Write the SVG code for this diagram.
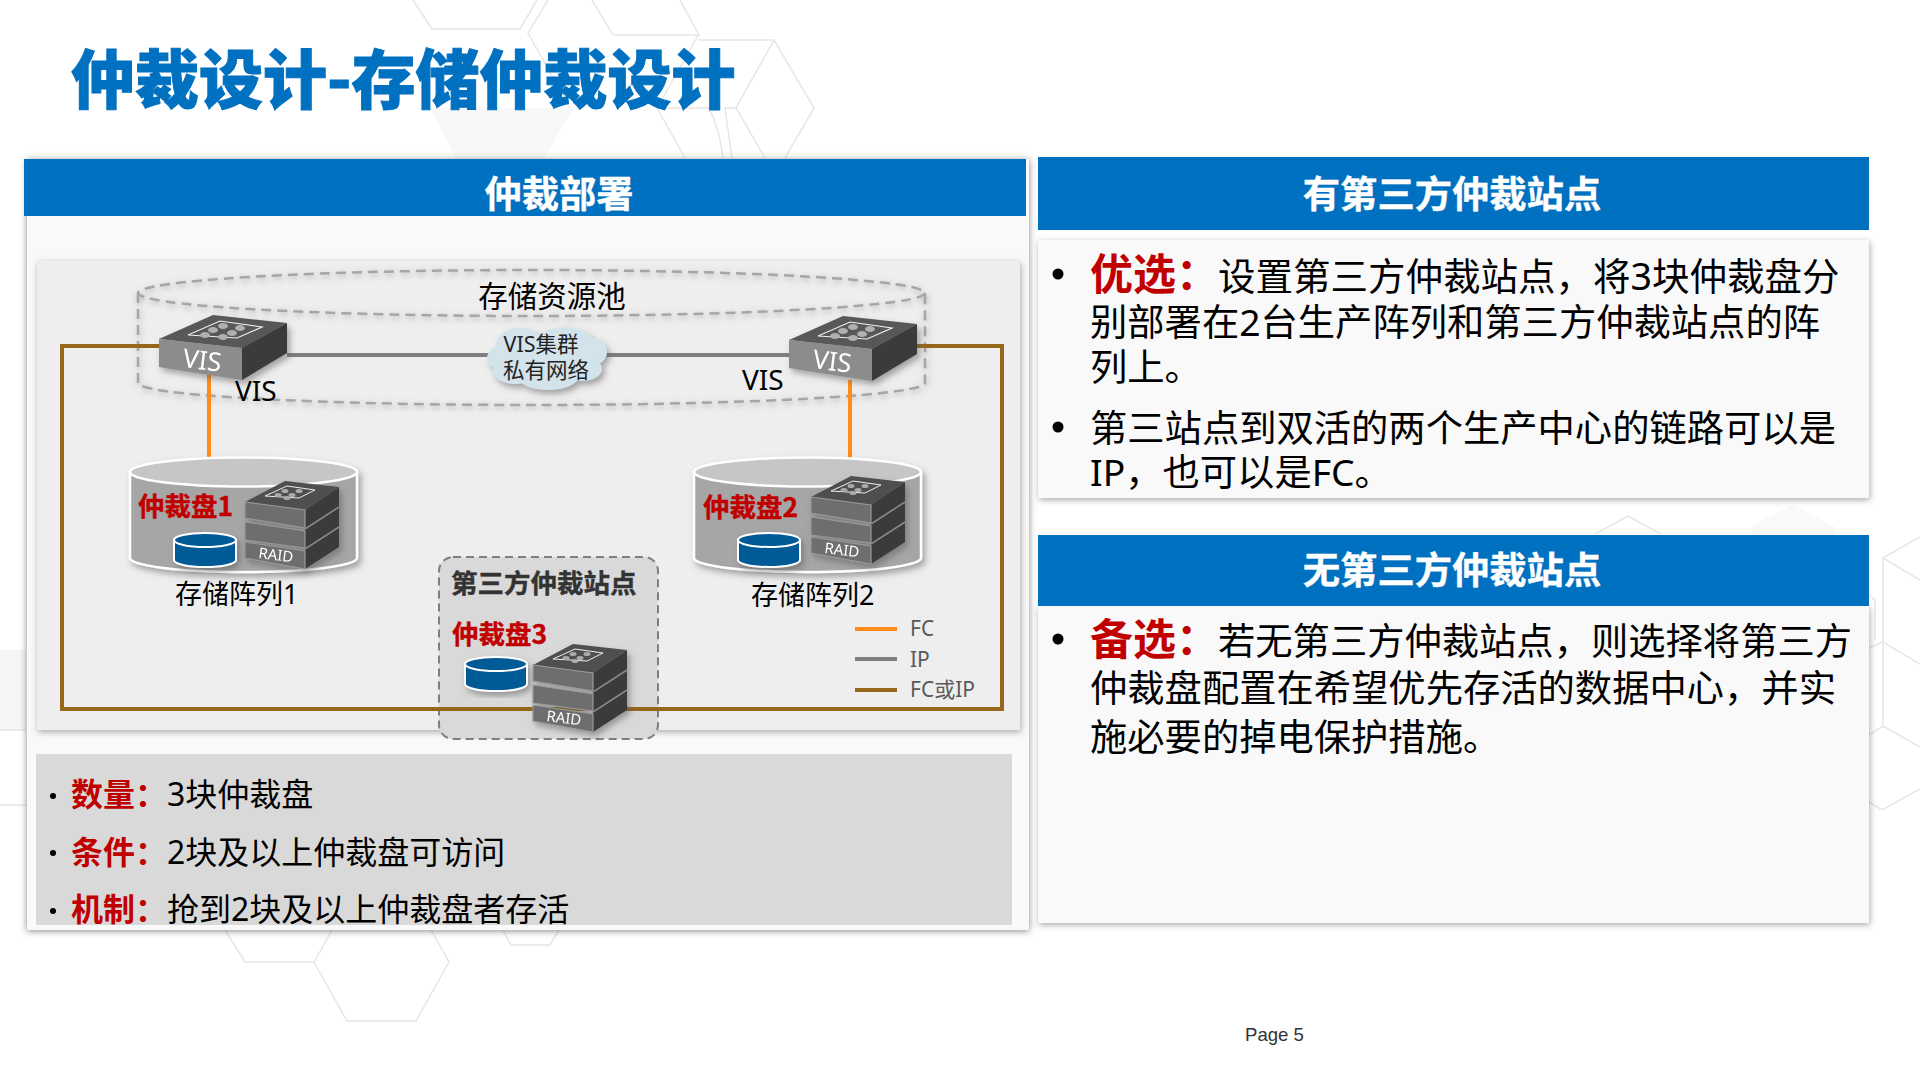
<svg xmlns="http://www.w3.org/2000/svg" xmlns:xlink="http://www.w3.org/1999/xlink" width="1920" height="1080" viewBox="0 0 1920 1080">
<style>
text{font-family:"Noto Sans","Noto Sans CJK SC",sans-serif;fill:#000}
.bg{fill:none;stroke:#e6e6e6;stroke-width:1.5}
.hd{fill:#0070c0}
.hdt{font-size:37.3px;font-weight:700;fill:#fff;text-anchor:middle;font-family:"Noto Sans CJK SC",sans-serif;stroke:#fff;stroke-width:.4}
.body{font-size:37.3px}
.red{fill:#c00000;font-weight:700;font-family:"Noto Sans CJK SC",sans-serif}
.disk{font-size:26.5px;font-weight:700;fill:#c00000;stroke:#c00000;stroke-width:.4;font-family:"Noto Sans CJK SC",sans-serif}
.small{font-size:32px}
.lab{font-size:27px}
.leg{font-size:21px;fill:#595959}
.fc{stroke:#ff8c1a;stroke-width:4;fill:none}
.ip{stroke:#7f7f7f;stroke-width:4;fill:none}
.fi{stroke:#96661a;stroke-width:4;fill:none}
</style>
<defs>
<filter id="sh" x="-5%" y="-5%" width="110%" height="110%"><feDropShadow dx="1" dy="2" stdDeviation="3" flood-color="#666" flood-opacity=".55"/></filter>
<filter id="sh3" x="-5%" y="-5%" width="110%" height="110%"><feDropShadow dx="0" dy="1" stdDeviation="3.5" flood-color="#555" flood-opacity=".7"/></filter>
<filter id="sh2" x="-10%" y="-10%" width="125%" height="130%"><feDropShadow dx="3" dy="4" stdDeviation="3" flood-color="#555" flood-opacity=".5"/></filter>
<clipPath id="cl"><rect x="36" y="754" width="976" height="171"/></clipPath>
<g id="sw">
<polygon points="0,24 54,0 128,8 83,33" fill="#585858"/>
<polygon points="0,24 83,33 83,65 0,52" fill="#8c8c8c"/>
<polygon points="83,33 128,8 128,38 83,65" fill="#3a3a3a"/>
<polygon points="29,20 61,6 103,12 78,23" fill="none" stroke="#eee" stroke-width="1.2"/>
<g fill="#b0b0b0"><ellipse cx="46" cy="20" rx="5" ry="3"/><ellipse cx="54" cy="15" rx="5" ry="3"/><ellipse cx="64" cy="11" rx="5" ry="3"/><ellipse cx="73" cy="18" rx="5" ry="3"/><ellipse cx="81" cy="13" rx="5" ry="3"/><ellipse cx="64" cy="22" rx="5" ry="3"/></g>
<text transform="translate(23,52) rotate(7)" style="font-size:26px;fill:#fff">VIS</text>
</g>
<g id="st">
<polygon points="60,29 94,6 94,66 60,88" fill="#3a3a3a"/>
<polygon points="0,21 40,0 94,6 60,29" fill="#4f4f4f"/>
<g fill="#6e6e6e" stroke="#999" stroke-width="1.2">
<polygon points="0,21 60,29 60,47 0,37"/>
<polygon points="0,41 60,50 60,67 0,59"/>
<polygon points="0,61 60,70 60,88 0,77"/>
</g>
<path d="M60 48L94 26M60 68L94 46" stroke="#888" stroke-width="1.5"/>
<polygon points="20,15 42,5 70,9 54,17" fill="none" stroke="#eee" stroke-width="1"/>
<g fill="#aaa"><ellipse cx="33" cy="14" rx="3.5" ry="2"/><ellipse cx="40" cy="10" rx="3.5" ry="2"/><ellipse cx="47" cy="14" rx="3.5" ry="2"/><ellipse cx="54" cy="10" rx="3.5" ry="2"/><ellipse cx="42" cy="17" rx="3.5" ry="2"/></g>
<text transform="translate(13,77) rotate(7)" style="font-size:15px;fill:#fff">RAID</text>
</g>
<g id="dk">
<path d="M0 7V27A31 7 0 0 0 62 27V7Z" fill="#005a96" stroke="#fff" stroke-width="2"/>
<ellipse cx="31" cy="7" rx="31" ry="7" fill="#005a96" stroke="#fff" stroke-width="2"/>
</g>
<g id="cy">
<path d="M0 14V100A113.5 14 0 0 0 227 100V14Z" fill="#a6a6a6" stroke="#fff" stroke-width="2.5"/>
<ellipse cx="113.5" cy="14" rx="113.5" ry="14.5" fill="#c6c6c6" stroke="#fff" stroke-width="2.5"/>
</g>
</defs>
<rect width="1920" height="1080" fill="#fff"/>
<g id="background">
<polygon points="430,108 456,158 544,158 574,108" fill="#f8f8f8"/>
<rect x="0" y="650" width="26" height="80" fill="#f6f6f6"/>
<polygon points="1752,535 1752,525 1793,505 1835,527 1835,535" fill="#f9f9f9"/>
<path class="bg" d="M413 0L432 29H520L537 0M548 0L528 33L570 108M592 0L613 35H699L680 0M699 34L657 108M698 40H774L814 108L785 158M774 40L736 108L765 158M657 108H709Q720 130 723 158M657 108L685 158M736 108H725L732 158"/>
<path class="bg" d="M225 930L245 962H314L332 930M431 930L449 962L416 1021H347L314 962M503 930L511 945H550L559 930M0 730H26M0 805H26"/>
<path class="bg" d="M1595 534L1628 516L1661 534M1920 537L1883 558V725M1883 558L1920 580M1869 648L1883 642L1920 664M1869 735L1883 726L1920 747M1869 802L1882 810L1920 789M1869 595L1875 600V640"/>
</g>
<g id="panel-left">
<rect x="27" y="159" width="1002" height="771" fill="#f9f9f9" filter="url(#sh3)"/>
<rect class="hd" x="24" y="159" width="1002" height="57"/>
<text class="hdt" x="559" y="208">仲裁部署</text>
<rect x="37" y="261" width="983" height="469" fill="#eee" filter="url(#sh)"/>
</g>
<g id="pool">
<g fill="none" stroke="#a6a6a6" stroke-width="2.5" stroke-dasharray="10 6" filter="url(#sh)">
<ellipse cx="531.5" cy="293" rx="393.5" ry="23"/>
<path d="M138 293V383A393.5 22 0 0 0 925 383V293"/>
</g>
<text x="552" y="307" text-anchor="middle" style="font-size:29.5px;font-family:'Noto Sans CJK SC',sans-serif">存储资源池</text>
</g>
<g id="third-site-box">
<rect x="439" y="557" width="219" height="182" rx="14" fill="#d9d9d9" stroke="#7f7f7f" stroke-width="2" stroke-dasharray="8 5"/>
</g>
<g id="connectors">
<path class="fi" d="M159 346H62V709H1002V346H917"/>
<path class="ip" d="M287 355H789"/>
<path class="fc" d="M209 375V458"/>
<path class="fc" d="M850 380V458"/>
<path class="fc" d="M855 629H897"/>
<path class="ip" d="M855 659H897"/>
<path class="fi" d="M855 690H897"/>
</g>
<g id="vis1">
<use href="#sw" x="159" y="315" filter="url(#sh2)"/>
<text x="235" y="401" style="font-size:28px">VIS</text>
</g>
<g id="vis2">
<use href="#sw" x="789" y="316" filter="url(#sh2)"/>
<text x="742" y="390" style="font-size:28px">VIS</text>
</g>
<g id="cloud">
<g fill="#d2e3ec" filter="url(#sh2)">
<ellipse cx="547" cy="358" rx="52" ry="24"/><ellipse cx="520" cy="345" rx="24" ry="17"/><ellipse cx="565" cy="342" rx="28" ry="15"/><ellipse cx="590" cy="352" rx="17" ry="14"/><ellipse cx="515" cy="371" rx="22" ry="13"/><ellipse cx="548" cy="377" rx="30" ry="13"/><ellipse cx="582" cy="369" rx="20" ry="12"/><ellipse cx="500" cy="358" rx="13" ry="11"/>
</g>
<text x="541" y="352" text-anchor="middle" style="font-size:21.5px;fill:#222">VIS集群</text>
<text x="546" y="378" text-anchor="middle" style="font-size:21.5px;fill:#222">私有网络</text>
</g>
<g id="array1">
<use href="#cy" x="130" y="458" filter="url(#sh2)"/>
<use href="#st" x="245" y="481" filter="url(#sh2)"/>
<use href="#dk" x="174" y="533" filter="url(#sh2)"/>
<text class="disk" x="138" y="516">仲裁盘1</text>
<text class="lab" x="175" y="604">存储阵列1</text>
</g>
<g id="array2">
<use href="#cy" x="694" y="458" filter="url(#sh2)"/>
<use href="#st" x="811" y="476" filter="url(#sh2)"/>
<use href="#dk" x="738" y="533" filter="url(#sh2)"/>
<text class="disk" x="703" y="517">仲裁盘2</text>
<text class="lab" x="751" y="605">存储阵列2</text>
</g>
<g id="third-site">
<text x="451" y="593" style="font-size:26.5px;font-weight:700;fill:#333;stroke:#333;stroke-width:.4;font-family:'Noto Sans CJK SC',sans-serif">第三方仲裁站点</text>
<text class="disk" x="452" y="644">仲裁盘3</text>
<use href="#dk" x="465" y="657" filter="url(#sh2)"/>
<use href="#st" x="533" y="644" filter="url(#sh2)"/>
</g>
<g id="legend">
<text class="leg" x="910" y="636">FC</text>
<text class="leg" x="910" y="667">IP</text>
<text class="leg" x="910" y="697">FC或IP</text>
</g>
<g id="facts">
<rect x="36" y="754" width="976" height="171" fill="#d9d9d9"/>
<g clip-path="url(#cl)">
<circle cx="53" cy="796" r="3"/><circle cx="53" cy="853" r="3"/><circle cx="53" cy="911" r="3"/>
<text class="small" x="71" y="806"><tspan class="red">数量：</tspan>3块仲裁盘</text>
<text class="small" x="71" y="864"><tspan class="red">条件：</tspan>2块及以上仲裁盘可访问</text>
<text class="small" x="71" y="921"><tspan class="red">机制：</tspan>抢到2块及以上仲裁盘者存活</text>
</g>
</g>
<g id="panel-with-site">
<rect x="1038" y="240" width="831" height="258" fill="#f9f9f9" filter="url(#sh)"/>
<rect class="hd" x="1038" y="157" width="831" height="73"/>
<text class="hdt" x="1452" y="208">有第三方仲裁站点</text>
<circle cx="1058" cy="274" r="5.5"/>
<text class="body" x="1090" y="290"><tspan class="red" style="font-size:43px">优选：</tspan><tspan x="1218" style="font-size:37.5px">设置第三方仲裁站点，将3块仲裁盘分</tspan></text>
<text class="body" x="1090" y="336">别部署在2台生产阵列和第三方仲裁站点的阵</text>
<text class="body" x="1090" y="381">列上。</text>
<circle cx="1058" cy="427" r="5.5"/>
<text class="body" x="1090" y="442">第三站点到双活的两个生产中心的链路可以是</text>
<text class="body" x="1090" y="486">IP，也可以是FC。</text>
</g>
<g id="panel-no-site">
<rect x="1038" y="606" width="831" height="317" fill="#f9f9f9" filter="url(#sh)"/>
<rect class="hd" x="1038" y="535" width="831" height="71"/>
<text class="hdt" x="1452" y="584">无第三方仲裁站点</text>
<circle cx="1058" cy="639" r="5.5"/>
<text class="body" x="1090" y="655"><tspan class="red" style="font-size:43px">备选：</tspan><tspan x="1218">若无第三方仲裁站点，则选择将第三方</tspan></text>
<text class="body" x="1090" y="702">仲裁盘配置在希望优先存活的数据中心，并实</text>
<text class="body" x="1090" y="751">施必要的掉电保护措施。</text>
</g>
<text id="title" x="71" y="103" style="font-size:64px;font-weight:900;fill:#0070c0;stroke:#0070c0;stroke-width:1;font-family:'Noto Sans CJK SC',sans-serif">仲裁设计-存储仲裁设计</text>
<text id="page" x="1245" y="1041" style="font-size:18.6px;fill:#333;font-family:'Liberation Sans',sans-serif">Page 5</text>
</svg>
